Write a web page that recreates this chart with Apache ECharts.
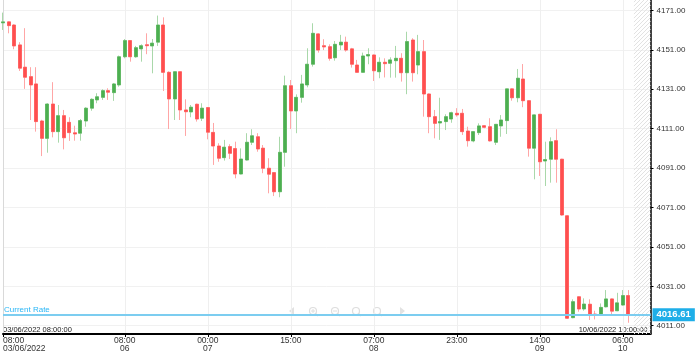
<!DOCTYPE html>
<html><head><meta charset="utf-8">
<script src="https://cdn.jsdelivr.net/npm/echarts@6/dist/echarts.min.js"></script>
<style>html,body{margin:0;padding:0;background:#fff}#c{width:699px;height:357px}</style>
</head><body><div id="c"></div>
<script>
// hourly sessions: [day, firstHour, lastHour] (daily break at 22:00)
const sessions = [['03',8,21],['06',0,21],['06',23,23],['07',0,21],['07',23,23],['08',0,21],['08',23,23],['09',0,21],['09',23,23],['10',0,11]];
const times = [];
sessions.forEach(([d,a,b]) => { for (let h = a; h <= b; h++) times.push(d + ' ' + String(h).padStart(2,'0') + ':00'); });

const tickTimes  = ['03 08:00','06 08:00','07 00:00','07 15:00','08 07:00','08 23:00','09 14:00','10 06:00'];
const tickLabels = ['08:00\n03/06/2022','08:00\n06','00:00\n07','15:00','07:00\n08','23:00','14:00\n09','06:00\n10'];
const yTicks = [4011,4031,4051,4071,4091,4111,4131,4151,4171];

const opens  = [4164.7,4165.2,4163.6,4153.5,4142.2,4137.4,4133.7,4114.9,4106.1,4123.5,4109.5,4117.6,4114.2,4108.9,4108.7,4114.9,4121.4,4125.6,4126.9,4130.3,
4129.3,4133.2,4147.5,4155.7,4147.5,4151.5,4153.6,4153.0,4154.9,4163.6,4139.6,4126.1,4139.9,4120.5,4119.5,4123.4,4116.3,4121.7,4109.1,4102.2,
4096.3,4101.9,4100.9,4088.0,4095.1,4104.1,4106.9,4101.1,4090.9,4088.7,4079.0,4099.0,4132.8,4120.0,4126.9,4133.2,4143.7,4159.1,4153.1,4152.6,
4147.0,4153.5,4154.9,4151.5,4143.3,4139.6,4147.9,4148.4,4139.9,4144.7,4144.2,4145.5,4146.7,4139.4,4156.0,4143.3,4150.1,4128.6,4117.1,4113.9,
4114.6,4115.9,4118.8,4118.8,4109.8,4104.8,4109.0,4112.5,4112.0,4104.1,4112.4,4115.1,4131.2,4126.7,4136.2,4125.2,4101.1,4118.3,4094.6,4095.5,
4104.9,4095.5,4066.8,4015.1,4025.7,4019.5,4021.9,4016.9,4016.4,4020.6,4024.6,4018.6,4021.5,4026.3];
const closes = [4165.2,4163.3,4153.0,4141.7,4137.1,4133.2,4114.6,4106.1,4123.5,4109.5,4117.6,4106.4,4109.0,4108.3,4115.1,4121.4,4125.9,4127.2,4130.3,4129.5,
4133.7,4147.5,4155.7,4147.5,4152.1,4153.1,4153.1,4154.4,4163.6,4139.6,4126.1,4139.9,4120.5,4119.6,4121.9,4115.9,4121.4,4109.2,4102.2,4096.0,
4101.6,4098.5,4088.0,4095.6,4104.1,4107.4,4100.7,4090.9,4087.9,4079.0,4099.0,4132.8,4120.0,4126.9,4133.7,4143.7,4159.4,4150.9,4152.5,4146.7,
4153.8,4154.9,4150.9,4143.7,4139.6,4147.9,4148.6,4140.4,4144.7,4144.0,4145.9,4146.7,4139.4,4155.2,4139.4,4150.1,4128.6,4117.1,4113.7,4114.6,
4117.1,4119.1,4118.0,4109.5,4104.9,4109.5,4112.4,4111.7,4104.8,4113.2,4115.4,4131.2,4126.7,4136.6,4125.2,4101.1,4118.0,4094.2,4095.3,4104.4,
4095.5,4067.2,4014.8,4023.2,4019.5,4022.0,4016.4,4016.2,4020.3,4024.6,4018.4,4022.6,4026.3,4016.61];
const lows   = [4161.1,4159.4,4151.3,4140.3,4131.2,4115.4,4109.5,4097.1,4098.8,4106.6,4103.9,4100.5,4104.8,4104.9,4104.9,4112.0,4120.1,4123.9,4125.6,4125.6,
4125.1,4132.3,4146.7,4145.0,4147.0,4145.0,4148.8,4139.1,4153.0,4130.1,4110.8,4115.4,4115.4,4107.3,4116.8,4114.6,4114.9,4105.6,4092.6,4094.2,
4094.8,4095.6,4085.8,4087.8,4094.8,4102.7,4099.3,4088.4,4078.2,4076.8,4076.2,4091.7,4110.8,4108.7,4124.2,4132.0,4142.5,4149.6,4150.9,4145.5,
4145.5,4150.9,4150.1,4142.0,4139.4,4139.3,4143.7,4135.2,4136.6,4137.0,4136.9,4136.9,4134.9,4128.5,4134.9,4138.6,4117.1,4108.7,4106.1,4105.3,
4110.3,4114.0,4117.1,4107.8,4101.9,4104.1,4107.8,4111.2,4104.5,4102.7,4106.9,4108.3,4125.2,4124.4,4121.9,4096.8,4085.3,4087.0,4081.9,4083.6,
4083.6,4066.8,4014.4,4014.8,4018.1,4018.6,4013.9,4014.2,4016.0,4020.3,4016.1,4018.4,4021.2,4012.5];
const highs  = [4169.9,4165.5,4164.0,4154.9,4162.0,4142.2,4142.2,4115.5,4123.9,4134.6,4123.0,4120.5,4116.8,4112.5,4115.9,4121.9,4126.4,4129.0,4131.0,4131.5,
4134.2,4148.1,4156.5,4156.0,4153.0,4153.8,4159.4,4156.5,4168.4,4167.5,4140.1,4140.1,4140.1,4125.9,4123.0,4123.7,4123.9,4122.0,4113.9,4103.6,
4105.3,4103.1,4104.4,4101.0,4108.7,4110.7,4108.7,4102.7,4096.0,4089.0,4106.9,4137.9,4135.7,4128.4,4138.3,4151.8,4164.5,4159.4,4156.4,4153.8,
4155.5,4158.6,4157.7,4152.0,4145.9,4149.6,4151.8,4148.6,4147.2,4146.7,4147.2,4153.0,4149.3,4160.2,4156.9,4158.6,4156.0,4128.9,4120.5,4126.7,
4118.3,4119.6,4121.4,4121.0,4112.0,4109.6,4113.7,4112.8,4116.3,4113.3,4117.9,4131.3,4131.5,4141.3,4143.8,4125.5,4118.2,4118.5,4104.4,4106.6,
4110.7,4095.7,4067.2,4024.4,4026.0,4024.9,4024.4,4018.6,4022.3,4029.1,4024.8,4027.7,4029.1,4029.1];

const currentRate = closes[closes.length - 1];
const yMin = 4006.8, yMax = 4176.3;

const wickData = opens.map((o, i) => [o, closes[i], lows[i], highs[i]]);
const bodyData = opens.map((o, i) => [o, closes[i], Math.min(o, closes[i]), Math.max(o, closes[i])]);

const isTick = (idx, val) => tickTimes.indexOf(val) >= 0;

const pc = document.createElement('canvas');
pc.width = 4; pc.height = 4;
const px = pc.getContext('2d');
px.strokeStyle = '#e2e2e2'; px.lineWidth = 1;
px.beginPath(); px.moveTo(-1, 5); px.lineTo(5, -1); px.stroke();

const FONT = 'Liberation Sans, Arial, sans-serif';
const chart = echarts.init(document.getElementById('c'), null, {renderer: 'canvas'});

function magnifier(cx, cy, sign) {
  const c = '#dedede';
  const els = [
    {type: 'circle', shape: {cx: cx, cy: cy - 1, r: 3.5}, style: {fill: 'none', stroke: c, lineWidth: 1.2}},
    {type: 'line', shape: {x1: cx + 2.5, y1: cy + 1.5, x2: cx + 5, y2: cy + 4}, style: {stroke: c, lineWidth: 1.5}}
  ];
  if (sign) els.push({type: 'line', shape: {x1: cx - 2, y1: cy - 1, x2: cx + 2, y2: cy - 1}, style: {stroke: c, lineWidth: 1}});
  if (sign === '+') els.push({type: 'line', shape: {x1: cx, y1: cy - 3, x2: cx, y2: cy + 1}, style: {stroke: c, lineWidth: 1}});
  return els;
}

chart.setOption({
  animation: false,
  textStyle: {fontFamily: FONT},
  grid: {left: 2, right: 48.5, top: 0, bottom: 23, containLabel: false},
  xAxis: {
    type: 'category', data: times, boundaryGap: false,
    axisLine: {lineStyle: {color: '#000', width: 2}},
    axisTick: {show: true, interval: isTick, length: 3, lineStyle: {color: '#000'}},
    axisLabel: {interval: isTick, formatter: v => tickLabels[tickTimes.indexOf(v)] || '',
      fontSize: 8.5, lineHeight: 8, color: '#333', margin: 3, alignMinLabel: 'left', fontFamily: FONT},
    splitLine: {show: true, interval: isTick, lineStyle: {color: '#efefef'}}
  },
  yAxis: [{
    type: 'value', position: 'right', min: yMin, max: yMax, scale: true,
    axisLine: {show: true, lineStyle: {color: '#000', width: 1.5}},
    axisTick: {show: true, length: 3, customValues: yTicks, lineStyle: {color: '#000'}},
    axisLabel: {customValues: yTicks, formatter: v => v.toFixed(2), fontSize: 8, color: '#333', margin: 6, fontFamily: FONT},
    splitLine: {show: true, lineStyle: {color: '#f1f1f1'}}
  }, {
    type: 'value', position: 'left', min: yMin, max: yMax,
    axisLine: {show: true, lineStyle: {color: '#d9d9d9', width: 1}},
    axisTick: {show: false}, axisLabel: {show: false}, splitLine: {show: false}
  }],
  series: [{
    name: 'wick', type: 'candlestick', yAxisIndex: 0, data: wickData, barWidth: 3.5,
    itemStyle: {color: '#a9d8aa', color0: '#ffa6a6', borderColor: '#a9d8aa', borderColor0: '#ffa6a6', borderWidth: 1},
    markArea: {silent: true, itemStyle: {color: {image: pc, repeat: 'repeat'}},
      data: [[{xAxis: times[opens.length]}, {xAxis: times[times.length - 1]}]]}
  }, {
    name: 'body', type: 'candlestick', yAxisIndex: 0, data: bodyData, barWidth: 3.5,
    itemStyle: {color: '#4caf50', color0: '#ff4f4f', borderColor: '#4caf50', borderColor0: '#ff4f4f', borderWidth: 0.5},
    markLine: {
      silent: true, symbol: 'none', animation: false,
      lineStyle: {color: '#7ccdf0', width: 2, type: 'solid'},
      data: [
        {yAxis: currentRate, label: {show: true, position: 'end', distance: 2, formatter: currentRate.toFixed(2),
          backgroundColor: '#1eaee8', color: '#fff', fontWeight: 'bold', fontSize: 9.5, padding: [2, 4, 1, 4], fontFamily: FONT}},
        {yAxis: currentRate, label: {show: true, position: 'insideStartTop', distance: 1, formatter: 'Current Rate',
          color: '#29b6f6', fontSize: 8, fontFamily: FONT}}
      ]
    }
  }],
  graphic: [
    {type: 'text', left: 3, bottom: 23.5, style: {text: '03/06/2022 08:00:00', fontSize: 7.5, fill: '#222', fontFamily: FONT}},
    {type: 'text', right: 51.5, bottom: 23.5, style: {text: '10/06/2022 10:00:00', fontSize: 7.5, fill: '#222', fontFamily: FONT}},
    {type: 'group', children: [
      {type: 'polygon', shape: {points: [[294, 307], [294, 315], [289, 311]]}, style: {fill: '#e2e2e2'}},
      ...magnifier(313, 312, '+'),
      ...magnifier(335, 312, '-'),
      ...magnifier(356, 312, null),
      ...magnifier(377, 312, null),
      {type: 'polygon', shape: {points: [[400, 307], [400, 315], [405, 311]]}, style: {fill: '#e2e2e2'}}
    ]}
  ]
});
</script></body></html>
